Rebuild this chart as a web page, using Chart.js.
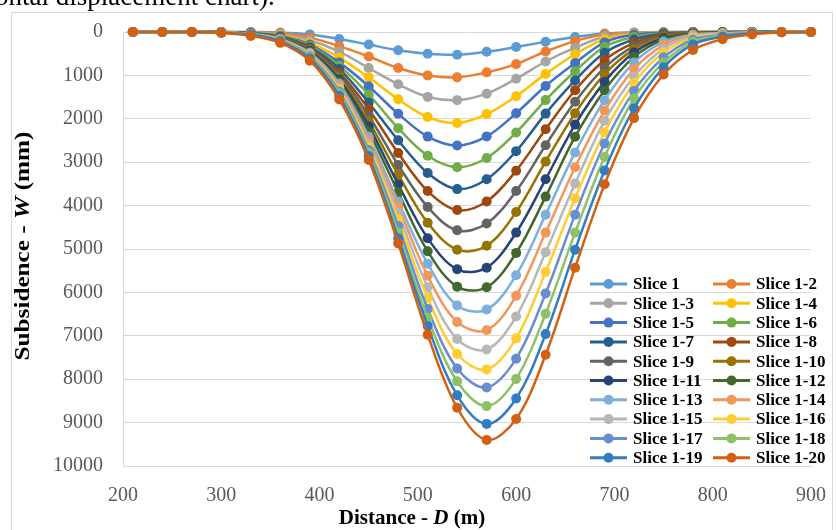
<!DOCTYPE html>
<html>
<head>
<meta charset="utf-8">
<script src="https://cdn.jsdelivr.net/npm/chart.js@4.4.0/dist/chart.umd.min.js"></script>
<style>
  html, body { margin: 0; padding: 0; background: #fff; overflow: hidden; }
  #wrap { position: relative; width: 836px; height: 530px; }
  #caption { position: absolute; left: -5px; top: -17px; font: 27px "Liberation Serif", serif; line-height: 27px; color: #000; white-space: nowrap; }
</style>
</head>
<body>
<div id="wrap">
  <canvas id="chart" width="836" height="530"></canvas>
  <div id="caption">ontal displacement chart).</div>
</div>
<script>
// distance along the section (m)
const distance = [210, 240, 270, 300, 330, 360, 390, 420, 450, 480, 510, 540, 570, 600, 630, 660, 690, 720, 750, 780, 810, 840, 870, 900];

// subsidence W (mm) per slice
const slice1    = [0, 0, 0, 0, 0, 10, 55, 160, 290, 420, 500, 525, 455, 345, 225, 115, 35, 10, 0, 0, 0, 0, 0, 0];
const slice1_2  = [0, 0, 0, 0, 5, 30, 130, 325, 565, 830, 1000, 1045, 930, 740, 450, 210, 60, 20, 5, 0, 0, 0, 0, 0];
const slice1_3  = [0, 0, 0, 0, 10, 50, 190, 450, 830, 1205, 1495, 1570, 1420, 1078, 680, 362, 110, 30, 10, 0, 0, 0, 0, 0];
const slice1_4  = [0, 0, 0, 0, 15, 70, 250, 590, 1045, 1550, 1960, 2095, 1890, 1480, 965, 513, 165, 45, 15, 5, 0, 0, 0, 0];
const slice1_5  = [0, 0, 0, 0, 20, 85, 290, 700, 1250, 1885, 2410, 2615, 2405, 1871, 1244, 716, 240, 60, 20, 5, 0, 0, 0, 0];
const slice1_6  = [0, 0, 0, 0, 25, 100, 320, 775, 1440, 2215, 2850, 3115, 2903, 2315, 1569, 905, 340, 113, 30, 10, 0, 0, 0, 0];
const slice1_7  = [0, 0, 0, 5, 30, 110, 350, 850, 1629, 2496, 3250, 3620, 3394, 2745, 1880, 1116, 480, 174, 40, 15, 5, 0, 0, 0];
const slice1_8  = [0, 0, 0, 5, 35, 120, 380, 928, 1780, 2790, 3665, 4102, 3907, 3195, 2240, 1342, 645, 249, 55, 20, 5, 0, 0, 0];
const slice1_9  = [0, 0, 0, 5, 35, 130, 400, 980, 1930, 3062, 4034, 4570, 4412, 3665, 2609, 1606, 820, 324, 80, 25, 10, 0, 0, 0];
const slice1_10 = [0, 0, 0, 5, 40, 140, 420, 1040, 2059, 3288, 4396, 5016, 4925, 4148, 2986, 1871, 970, 400, 110, 30, 10, 5, 0, 0];
const slice1_11 = [0, 0, 0, 5, 40, 150, 440, 1093, 2170, 3510, 4751, 5468, 5430, 4622, 3394, 2134, 1150, 475, 140, 40, 15, 5, 0, 0];
const slice1_12 = [0, 0, 0, 5, 45, 155, 460, 1138, 2285, 3695, 5053, 5867, 5882, 5090, 3793, 2413, 1340, 573, 174, 45, 20, 5, 0, 0];
const slice1_13 = [0, 0, 0, 10, 45, 160, 480, 1192, 2413, 3907, 5339, 6300, 6395, 5604, 4208, 2775, 1570, 701, 226, 60, 25, 10, 0, 0];
const slice1_14 = [0, 0, 0, 10, 50, 170, 500, 1237, 2500, 4020, 5618, 6681, 6871, 6079, 4622, 3115, 1810, 852, 301, 75, 35, 10, 0, 0];
const slice1_15 = [0, 0, 0, 10, 50, 175, 520, 1282, 2580, 4170, 5882, 7075, 7315, 6555, 5075, 3492, 2050, 1026, 385, 98, 45, 15, 0, 0];
const slice1_16 = [0, 0, 0, 10, 55, 185, 540, 1327, 2650, 4321, 6131, 7420, 7776, 7059, 5528, 3831, 2310, 1176, 475, 136, 55, 15, 0, 0];
const slice1_17 = [0, 0, 0, 10, 55, 190, 560, 1372, 2720, 4472, 6380, 7753, 8190, 7527, 6025, 4208, 2570, 1357, 588, 174, 70, 20, 5, 0];
const slice1_18 = [0, 0, 0, 15, 60, 200, 580, 1418, 2790, 4622, 6584, 8050, 8620, 7993, 6490, 4622, 2880, 1531, 701, 226, 85, 25, 5, 0];
const slice1_19 = [0, 0, 0, 15, 65, 215, 610, 1470, 2860, 4750, 6772, 8371, 9030, 8446, 6961, 5016, 3190, 1757, 814, 287, 110, 30, 5, 0];
const slice1_20 = [0, 0, 0, 20, 90, 250, 660, 1554, 2949, 4871, 6976, 8658, 9400, 8915, 7437, 5430, 3510, 1984, 980, 414, 165, 55, 5, 0];

const sliceNames = ['Slice 1', 'Slice 1-2', 'Slice 1-3', 'Slice 1-4', 'Slice 1-5', 'Slice 1-6', 'Slice 1-7', 'Slice 1-8', 'Slice 1-9', 'Slice 1-10',
  'Slice 1-11', 'Slice 1-12', 'Slice 1-13', 'Slice 1-14', 'Slice 1-15', 'Slice 1-16', 'Slice 1-17', 'Slice 1-18', 'Slice 1-19', 'Slice 1-20'];
const sliceValues = [slice1, slice1_2, slice1_3, slice1_4, slice1_5, slice1_6, slice1_7, slice1_8, slice1_9, slice1_10,
  slice1_11, slice1_12, slice1_13, slice1_14, slice1_15, slice1_16, slice1_17, slice1_18, slice1_19, slice1_20];
const sliceColors = ['#5B9BD5', '#ED7D31', '#A5A5A5', '#FFC000', '#4472C4', '#70AD47', '#255E91', '#9E480E', '#636363', '#997300',
  '#264478', '#43682B', '#7CAFDD', '#F1975A', '#B7B7B7', '#FFCD33', '#698ED0', '#8CC168', '#327DC2', '#D26012'];

const serif = '"Liberation Serif", "Times New Roman", serif';

// draws a line of text made of [text, italic] parts, centred on x
function drawMixed(ctx, parts, cx, y, size) {
  const fontOf = (it) => (it ? 'italic ' : '') + 'bold ' + size + 'px ' + serif;
  let total = 0;
  parts.forEach(([t, it]) => { ctx.font = fontOf(it); total += ctx.measureText(t).width; });
  let x = cx - total / 2;
  parts.forEach(([t, it]) => {
    ctx.font = fontOf(it);
    ctx.fillText(t, x, y);
    x += ctx.measureText(t).width;
  });
}

// frame, axis titles and the two-column legend inside the plot
const overlay = {
  id: 'overlay',
  beforeDraw(chart) {
    const ctx = chart.ctx;
    ctx.save();
    ctx.strokeStyle = '#D9D9D9';
    ctx.lineWidth = 1;
    ctx.strokeRect(11.5, 12.5, 821, 530);
    ctx.restore();
  },
  afterDraw(chart) {
    const ctx = chart.ctx;
    ctx.save();
    ctx.fillStyle = '#000';
    ctx.textBaseline = 'alphabetic';
    drawMixed(ctx, [['Distance - ', false], ['D', true], [' (m)', false]], 412, 524, 21);

    ctx.save();
    ctx.translate(29, 246);
    ctx.rotate(-Math.PI / 2);
    ctx.scale(1.2, 1);
    drawMixed(ctx, [['Subsidence - ', false], ['W', true], [' (mm)', false]], 0, 0, 21);
    ctx.restore();

    ctx.textBaseline = 'middle';
    ctx.font = 'bold 17px ' + serif;
    sliceNames.forEach((name, i) => {
      const row = Math.floor(i / 2);
      const x0 = i % 2 === 0 ? 590 : 713;
      const y = 284 + row * 19.3;
      ctx.strokeStyle = sliceColors[i];
      ctx.lineWidth = 3;
      ctx.beginPath();
      ctx.moveTo(x0, y);
      ctx.lineTo(x0 + 37, y);
      ctx.stroke();
      ctx.fillStyle = sliceColors[i];
      ctx.beginPath();
      ctx.arc(x0 + 18.5, y, 5, 0, Math.PI * 2);
      ctx.fill();
      ctx.fillStyle = '#000';
      ctx.fillText(name, x0 + 43, y + 1);
    });
    ctx.restore();
  }
};

const datasets = sliceValues.map((vals, i) => ({
  label: sliceNames[i],
  data: distance.map((d, k) => ({ x: d, y: vals[k] })),
  borderColor: sliceColors[i],
  backgroundColor: sliceColors[i],
  pointBackgroundColor: sliceColors[i],
  pointBorderColor: sliceColors[i],
  pointRadius: 5,
  pointBorderWidth: 0,
  borderWidth: 2.5,
  tension: 0.35,
  fill: false,
  clip: false,
  order: 20 - i
}));

new Chart(document.getElementById('chart'), {
  type: 'line',
  data: { datasets },
  options: {
    responsive: false,
    animation: false,
    layout: { padding: { left: 0, top: 24, right: 21, bottom: 0 } },
    plugins: { legend: { display: false }, tooltip: { enabled: false } },
    scales: {
      x: {
        type: 'linear',
        min: 200,
        max: 900,
        ticks: { stepSize: 100, padding: 10, color: '#595959', font: { family: serif, size: 20 }, callback: (v) => String(v) },
        grid: { display: false },
        border: { display: true, color: '#D9D9D9' },
        afterFit: (scale) => { scale.height = 64; }
      },
      y: {
        reverse: true,
        min: 0,
        max: 10000,
        ticks: { stepSize: 1000, padding: 20, color: '#595959', font: { family: serif, size: 20 }, callback: (v) => String(v) },
        grid: { color: '#D9D9D9', drawTicks: false },
        border: { display: true, color: '#D9D9D9' },
        afterFit: (scale) => { scale.width = 123; }
      }
    }
  },
  plugins: [overlay]
});
</script>
</body>
</html>
